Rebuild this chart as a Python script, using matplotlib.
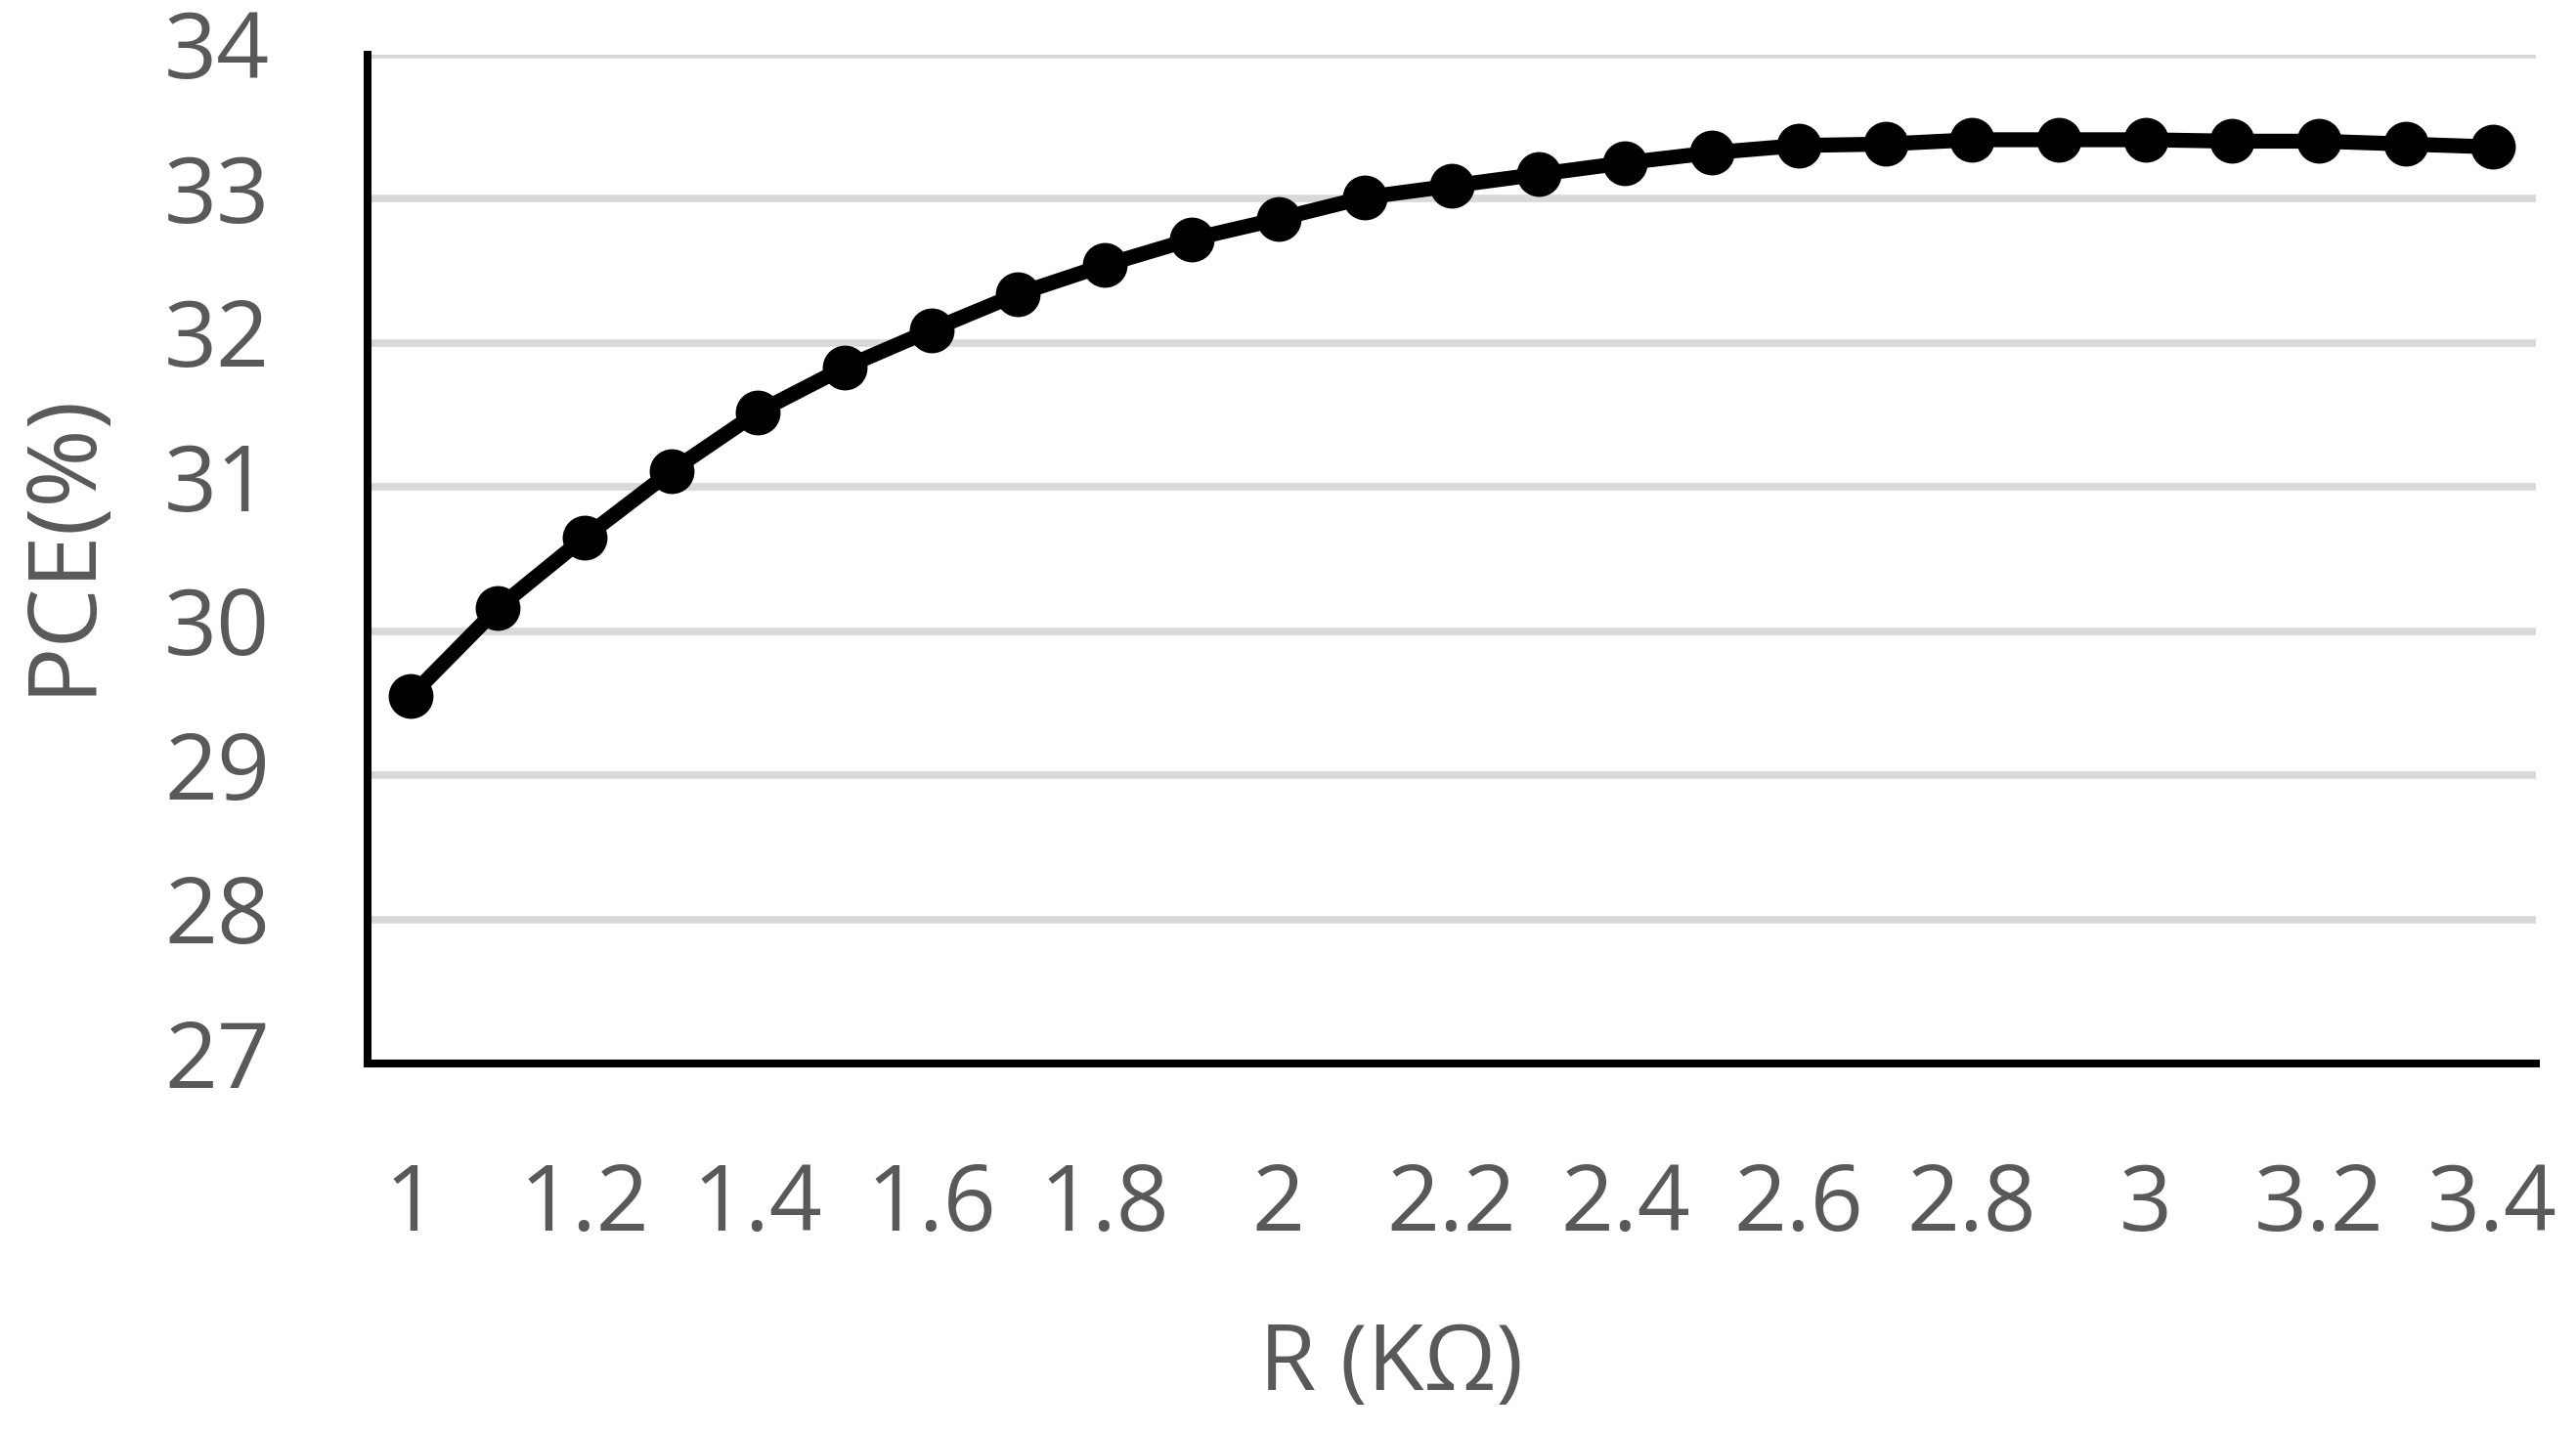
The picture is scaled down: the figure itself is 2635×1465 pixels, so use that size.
import matplotlib.pyplot as plt
import numpy as np

plt.rcParams.update({
    'font.family': ['Open Sans', 'DejaVu Sans'],
    'font.size': 68,
})

# Data
r_kohm = [1.0, 1.1, 1.2, 1.3, 1.4, 1.5, 1.6, 1.7, 1.8, 1.9, 2.0, 2.1, 2.2,
          2.3, 2.4, 2.5, 2.6, 2.7, 2.8, 2.9, 3.0, 3.1, 3.2, 3.3, 3.4]
pce = [29.55, 30.16, 30.65, 31.11, 31.52, 31.83, 32.09, 32.34, 32.54, 32.72,
       32.86, 33.01, 33.09, 33.17, 33.25, 33.32, 33.37, 33.38, 33.41, 33.41,
       33.41, 33.40, 33.40, 33.38, 33.36]
x_ticks = [1, 1.2, 1.4, 1.6, 1.8, 2, 2.2, 2.4, 2.6, 2.8, 3, 3.2, 3.4]
x_labels = ['1', '1.2', '1.4', '1.6', '1.8', '2', '2.2', '2.4', '2.6', '2.8', '3', '3.2', '3.4']
y_ticks = [27, 28, 29, 30, 31, 32, 33, 34]

text_color = '#595959'

fig = plt.figure(figsize=(26.35, 14.65), dpi=100)
ax = fig.add_axes([0.1427, 0.2573, 0.8417, 0.7045])

ax.plot(r_kohm, pce, '-o', color='black', linewidth=11, markersize=32,
        zorder=3, clip_on=False)

ax.set_xlim(0.95, 3.45)
ax.set_ylim(27, 34)
ax.set_xticks(x_ticks)
ax.set_xticklabels(x_labels)
ax.set_yticks(y_ticks)

ax.grid(axis='y', color='#d9d9d9', linewidth=5.5, zorder=0)
ax.set_axisbelow(True)

for side in ['top', 'right']:
    ax.spines[side].set_visible(False)
for side in ['left', 'bottom']:
    ax.spines[side].set_linewidth(5.8)
    ax.spines[side].set_color('black')

ax.tick_params(axis='both', length=0, labelcolor=text_color, labelsize=68)
ax.tick_params(axis='y', pad=72)
ax.tick_params(axis='x', pad=72)
for lbl in ax.get_yticklabels():
    lbl.set_verticalalignment('center')

ax.set_xlabel('R (KΩ)', color=text_color, fontsize=68)
ax.set_ylabel('PCE(%)', color=text_color, fontsize=70)
ax.xaxis.set_label_coords(0.472, -0.255)
ax.yaxis.set_label_coords(-0.119, 0.516)

fig.savefig('out.png', dpi=100)
